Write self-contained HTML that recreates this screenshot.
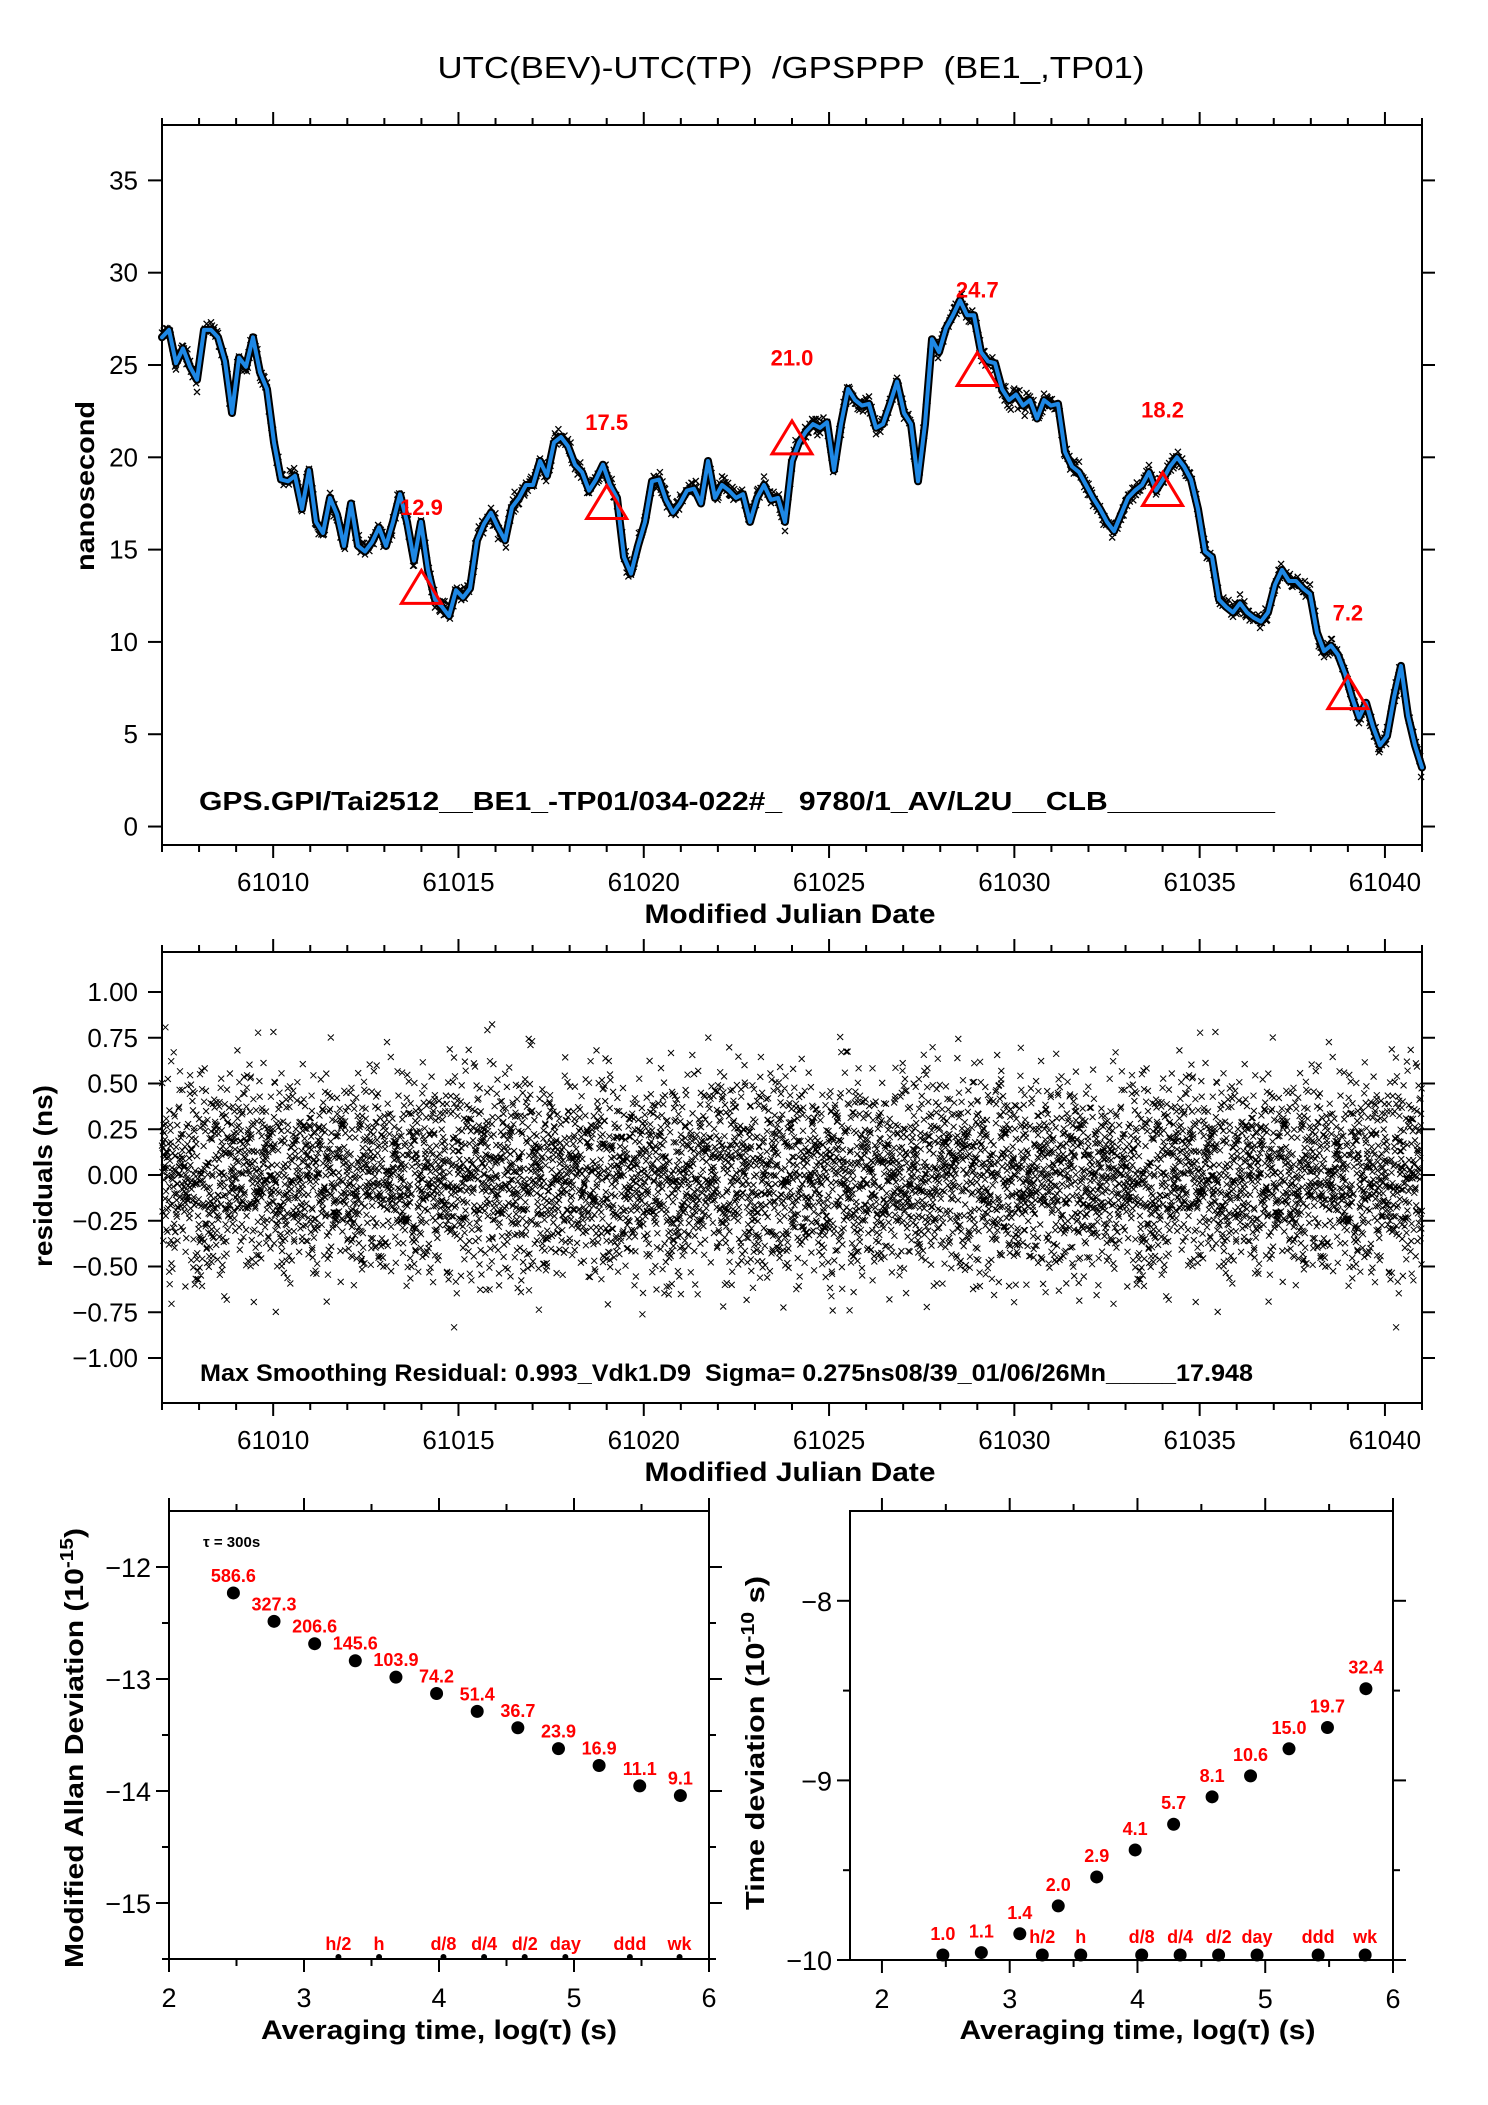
<!DOCTYPE html>
<html><head><meta charset="utf-8"><style>
html,body{margin:0;padding:0;background:#fff;}
svg{display:block;font-family:"Liberation Sans",Arial,sans-serif;}
text{white-space:pre;}
</style></head><body>
<svg id="fig" width="1488" height="2105" viewBox="0 0 1488 2105" xmlns="http://www.w3.org/2000/svg">
<rect width="1488" height="2105" fill="#fff"/>
<text x="791" y="78" font-size="31" text-anchor="middle" textLength="707" lengthAdjust="spacingAndGlyphs">UTC(BEV)-UTC(TP)  /GPSPPP  (BE1_,TP01)</text>
<g id="gtop"></g>
<g id="gmid"></g>
<g id="gbl"></g>
<g id="gbr"></g>
</svg>
<script>
// ---------- data ----------
const tsStart = 61007.0, tsEnd = 61041.0;
const tsValues = [26.5,26.9,25.1,25.9,24.9,24.2,26.9,26.9,26.5,25.2,22.4,25.4,24.9,26.5,24.6,23.7,20.8,18.8,18.7,19.0,17.2,19.3,16.5,15.9,17.8,16.9,15.2,17.5,15.2,14.9,15.4,16.2,15.2,16.5,18.0,16.5,14.4,16.5,13.9,12.3,11.9,11.4,12.8,12.4,12.9,15.5,16.4,17.0,16.2,15.5,17.3,17.8,18.5,18.5,19.8,19.0,20.8,21.1,20.6,19.6,19.2,18.2,18.8,19.6,18.5,17.8,14.6,13.7,15.2,16.5,18.7,18.8,17.7,17.0,17.5,18.2,18.3,17.5,19.8,17.8,18.5,18.2,17.8,18.0,16.5,17.8,18.5,17.7,17.8,16.5,19.8,20.8,21.4,21.8,21.6,21.9,19.3,21.8,23.7,23.1,22.8,22.9,21.6,21.8,22.9,24.1,22.4,21.8,18.7,21.8,26.4,25.7,27.0,27.7,28.5,27.7,27.7,25.7,25.2,25.1,23.7,23.1,23.4,22.8,23.1,22.1,23.1,22.8,22.9,20.3,19.5,19.2,18.5,17.8,17.2,16.5,16.0,16.9,17.8,18.2,18.5,19.2,18.2,18.8,19.5,20.0,19.5,18.8,17.2,14.9,14.6,12.3,11.9,11.6,12.1,11.6,11.3,11.1,11.6,13.1,13.9,13.3,13.3,12.9,12.6,10.5,9.5,9.8,9.3,8.3,7.0,5.9,6.7,5.4,4.4,4.9,7.0,8.7,6.0,4.4,3.2];
const triMjd = [61014,61019,61024,61029,61034,61039];
const triVal = [12.9,17.5,21.0,24.7,18.2,7.2];
const topYTicks = [0,5,10,15,20,25,30,35];
const mjdMajor = [61010,61015,61020,61025,61030,61035,61040];
const resYTicks = [-1.0,-0.75,-0.5,-0.25,0,0.25,0.5,0.75,1.0];
const resYLabels = ["\u22121.00","\u22120.75","\u22120.50","\u22120.25","0.00","0.25","0.50","0.75","1.00"];
const resSigma = 0.275;
const tauLog = [2.477,2.778,3.079,3.380,3.681,3.982,4.283,4.584,4.885,5.186,5.487,5.788];
const mdevVals = [586.6,327.3,206.6,145.6,103.9,74.2,51.4,36.7,23.9,16.9,11.1,9.1];
const tdevVals = [1.0,1.1,1.4,2.0,2.9,4.1,5.7,8.1,10.6,15.0,19.7,32.4];
const markNames = ["h/2","h","d/8","d/4","d/2","day","ddd","wk"];
const markLog = [3.255,3.556,4.033,4.334,4.635,4.936,5.414,5.782];

// ---------- helpers ----------
const NS='http://www.w3.org/2000/svg';
function mk(parent,tag,attrs,text){const el=document.createElementNS(NS,tag);for(const k in attrs)el.setAttribute(k,attrs[k]);if(text!==undefined)el.textContent=text;parent.appendChild(el);return el;}
function lin(d0,d1,r0,r1){return v=>r0+(v-d0)*(r1-r0)/(d1-d0);}
let seed=12345;function rnd(){seed=(seed*1103515245+12345)%2147483648;return seed/2147483648;}
function gauss(){let s=0;for(let k=0;k<4;k++)s+=rnd();return (s-2)*Math.sqrt(3);}

// ---------- top panel ----------
const gTop=document.getElementById('gtop');
const X=lin(61007,61041,162,1422);
const Y=lin(-1,38,845,125);
let e;
e=mk(gTop,'rect',{x:162,y:125,width:1260,height:720,fill:'none',stroke:'#000','stroke-width':2});


function mjdTicks(g,yt,yb,labY,name){
  for(let d=61007;d<=61041;d++){
    const maj=(d%5===0);const L=maj?13:7;const x=X(d);
    const t1=mk(g,'line',{x1:x,x2:x,y1:yt,y2:yt-L,stroke:'#000','stroke-width':2});
    
    
    const t2=mk(g,'line',{x1:x,x2:x,y1:yb,y2:yb+L,stroke:'#000','stroke-width':2});
    
    
  }
  mjdMajor.forEach(d=>{const t=mk(g,'text',{x:X(d),y:labY,'font-size':26,'text-anchor':'middle'},String(d));
    
    });
  const tt=mk(g,'text',{x:790,y:labY+32,'font-size':27,'font-weight':'bold','text-anchor':'middle',textLength:291,lengthAdjust:'spacingAndGlyphs'},'Modified Julian Date');
  
  
}
mjdTicks(gTop,125,845,891,'x-axis-title');
topYTicks.forEach(v=>{const y=Y(v);
  const a=mk(gTop,'line',{x1:162,x2:148,y1:y,y2:y,stroke:'#000','stroke-width':2});
  
  
  const b=mk(gTop,'line',{x1:1422,x2:1435,y1:y,y2:y,stroke:'#000','stroke-width':2});
  
  
  const t=mk(gTop,'text',{x:138,y:y+9,'font-size':26,'text-anchor':'end'},String(v));
  
  
});
e=mk(gTop,'text',{x:0,y:0,'font-size':26,'font-weight':'bold','text-anchor':'middle',transform:'translate(94,486) rotate(-90)',textLength:170,lengthAdjust:'spacingAndGlyphs'},'nanosecond');


const nPts=tsValues.length;
const tsMjd=i=>tsStart+i*(tsEnd-tsStart)/(nPts-1);
const pts=tsValues.map((v,i)=>X(tsMjd(i)).toFixed(1)+','+Y(v).toFixed(1)).join(' ');
e=mk(gTop,'polyline',{points:pts,fill:'none',stroke:'#000','stroke-width':8,'stroke-linejoin':'round','stroke-linecap':'round'});


// scatter crosses around the trace (texture)
let cpath='';
for(let i=0;i<nPts-1;i++){
  for(let k=0;k<8;k++){const f=k/8;const d=tsMjd(i)+f*(tsMjd(i+1)-tsMjd(i));
    const v=tsValues[i]+(tsValues[i+1]-tsValues[i])*f+gauss()*0.25;
    const x=X(d),y=Y(v);
    cpath+=`M${(x-3).toFixed(1)} ${(y-3).toFixed(1)}l6 6M${(x-3).toFixed(1)} ${(y+3).toFixed(1)}l6 -6`;}
}
e=mk(gTop,'path',{d:cpath,stroke:'#000','stroke-width':1.3,fill:'none'});


e=mk(gTop,'polyline',{points:pts,fill:'none',stroke:'#1e88e5','stroke-width':4,'stroke-linejoin':'round','stroke-linecap':'round'});


triMjd.forEach((d,i)=>{const x=X(d),y=Y(triVal[i]);
  const p=mk(gTop,'polygon',{points:`${x-20},${y+15} ${x+20},${y+15} ${x},${y-18}`,fill:'none',stroke:'#f00','stroke-width':3});
  
  
  const t=mk(gTop,'text',{x:x,y:Y(triVal[i]+4.4)+8,'font-size':22,'font-weight':'bold',fill:'#f00','text-anchor':'middle'},triVal[i].toFixed(1));
  
  
});
e=mk(gTop,'text',{x:199,y:810,'font-size':26,'font-weight':'bold',textLength:1076,lengthAdjust:'spacingAndGlyphs'},'GPS.GPI/Tai2512__BE1_-TP01/034-022#_  9780/1_AV/L2U__CLB__________');



// ---------- middle panel ----------
const gMid=document.getElementById('gmid');
const RY=lin(-1,1,1358,992);
e=mk(gMid,'rect',{x:162,y:952,width:1260,height:451,fill:'none',stroke:'#000','stroke-width':2});


mjdTicks(gMid,952,1403,1449,'x-axis-title');
resYTicks.forEach((v,i)=>{const y=RY(v);
  const a=mk(gMid,'line',{x1:162,x2:148,y1:y,y2:y,stroke:'#000','stroke-width':2});
  
  
  const b=mk(gMid,'line',{x1:1422,x2:1435,y1:y,y2:y,stroke:'#000','stroke-width':2});
  
  
  const t=mk(gMid,'text',{x:138,y:y+9,'font-size':26,'text-anchor':'end'},resYLabels[i]);
  
  
});
e=mk(gMid,'text',{x:0,y:0,'font-size':26,'font-weight':'bold','text-anchor':'middle',transform:'translate(52,1176) rotate(-90)',textLength:182,lengthAdjust:'spacingAndGlyphs'},'residuals (ns)');


let dpath='';
const NRES=7000;
for(let i=0;i<NRES;i++){const d=61007+34*i/NRES;let r=gauss()*resSigma;if(r>1.15)r=1.15;if(r<-1.2)r=-1.2;
  const x=X(d),y=RY(r);dpath+=`M${(x-3).toFixed(1)} ${(y-3).toFixed(1)}l6 6M${(x-3).toFixed(1)} ${(y+3).toFixed(1)}l6 -6`;}
e=mk(gMid,'path',{d:dpath,stroke:'#000','stroke-width':1,fill:'none'});


e=mk(gMid,'rect',{x:195,y:1357,width:1070,height:32,fill:'#fff'});


e=mk(gMid,'text',{x:200,y:1381,'font-size':24,'font-weight':'bold',textLength:1053,lengthAdjust:'spacingAndGlyphs'},'Max Smoothing Residual: 0.993_Vdk1.D9  Sigma= 0.275ns08/39_01/06/26Mn_____17.948');



// ---------- bottom panels ----------
function logPanel(g,cfg){
  const x0=cfg.x0,x1=cfg.x1,yTop=cfg.yTop,yBot=cfg.yBot;
  const LX=lin(cfg.lx0,cfg.lx1,x0,x1), LY=lin(cfg.vBot,cfg.vTop,yBot,yTop);
  const fr=mk(g,'rect',{x:x0,y:yTop,width:x1-x0,height:yBot-yTop,fill:'none',stroke:'#000','stroke-width':2});
  
  
  for(let v=2;v<=6;v+=0.5){const maj=Number.isInteger(v);const L=maj?13:7;const x=LX(v);
    const a=mk(g,'line',{x1:x,x2:x,y1:yTop,y2:yTop-L,stroke:'#000','stroke-width':2});
    
    
    const b=mk(g,'line',{x1:x,x2:x,y1:yBot,y2:yBot+L,stroke:'#000','stroke-width':2});
    
    
    if(maj){const t=mk(g,'text',{x:x,y:yBot+48,'font-size':27,'text-anchor':'middle'},String(v));
      
      }
  }
  for(let v=cfg.tStart;v>=cfg.tEnd-1e-9;v-=0.5){const maj=Number.isInteger(v);const L=maj?13:7;const y=LY(v);
    const a=mk(g,'line',{x1:x0,x2:x0-L,y1:y,y2:y,stroke:'#000','stroke-width':2});
    
    
    const b=mk(g,'line',{x1:x1,x2:x1+L,y1:y,y2:y,stroke:'#000','stroke-width':2});
    
    
    if(maj){const t=mk(g,'text',{x:x0-18,y:y+10,'font-size':27,'text-anchor':'end'},'\u2212'+Math.abs(v));
      
      }
  }
  const xt=mk(g,'text',{x:(LX(2)+LX(6))/2,y:2039,'font-size':27,'font-weight':'bold','text-anchor':'middle',textLength:356,lengthAdjust:'spacingAndGlyphs'},'Averaging time, log(\u03c4) (s)');
  
  
  return {LX:LX,LY:LY};
}
function rotTitle(g,x,y,len,main,sup,tail){
  const t=mk(g,'text',{x:0,y:0,'font-size':26,'font-weight':'bold','text-anchor':'middle',transform:`translate(${x},${y}) rotate(-90)`,textLength:len,lengthAdjust:'spacingAndGlyphs'});
  
  
  mk(t,'tspan',{},main);
  mk(t,'tspan',{dy:-10,'font-size':18},sup);
  mk(t,'tspan',{dy:10},tail);
  return t;
}
const gBL=document.getElementById('gbl');
const P1=logPanel(gBL,{x0:169,x1:709,lx0:2,lx1:6,yTop:1511,yBot:1959,vTop:-11.5,vBot:-15.5,tStart:-12,tEnd:-15.5});
rotTitle(gBL,83,1748,440,'Modified Allan Deviation (10','-15',')');
e=mk(gBL,'text',{x:203,y:1547,'font-size':15,'font-weight':'bold'},'\u03c4 = 300s');


tauLog.forEach((l,i)=>{const x=P1.LX(l),y=P1.LY(Math.log10(mdevVals[i]*1e-15));
  const c=mk(gBL,'circle',{cx:x,cy:y,r:6.5,fill:'#000'});
  
  
  const t=mk(gBL,'text',{x:x,y:y-11,'font-size':18,'font-weight':'bold',fill:'#f00','text-anchor':'middle'},mdevVals[i].toFixed(1));
  
  
});
markLog.forEach((l,i)=>{const x=P1.LX(l);
  const c=mk(gBL,'circle',{cx:x,cy:1957,r:3,fill:'#000'});
  
  
  const t=mk(gBL,'text',{x:x,y:1950,'font-size':18,'font-weight':'bold',fill:'#f00','text-anchor':'middle'},markNames[i]);
  
  
});
const gBR=document.getElementById('gbr');
const P2=logPanel(gBR,{x0:850,x1:1393,lx0:1.75,lx1:6,yTop:1511,yBot:1960,vTop:-7.5,vBot:-10,tStart:-8,tEnd:-10});
rotTitle(gBR,764,1743,334,'Time deviation (10','-10',' s)');
tauLog.forEach((l,i)=>{const x=P2.LX(l),y=Math.min(P2.LY(Math.log10(tdevVals[i])-10),1955);
  const c=mk(gBR,'circle',{cx:x,cy:y,r:6.5,fill:'#000'});
  
  
  const t=mk(gBR,'text',{x:x,y:y-15,'font-size':18,'font-weight':'bold',fill:'#f00','text-anchor':'middle'},tdevVals[i].toFixed(1));
  
  
});
markLog.forEach((l,i)=>{const x=P2.LX(l);
  const c=mk(gBR,'circle',{cx:x,cy:1955,r:6.5,fill:'#000'});
  
  
  const t=mk(gBR,'text',{x:x,y:1943,'font-size':18,'font-weight':'bold',fill:'#f00','text-anchor':'middle'},markNames[i]);
  
  
});
</script>
</body></html>
